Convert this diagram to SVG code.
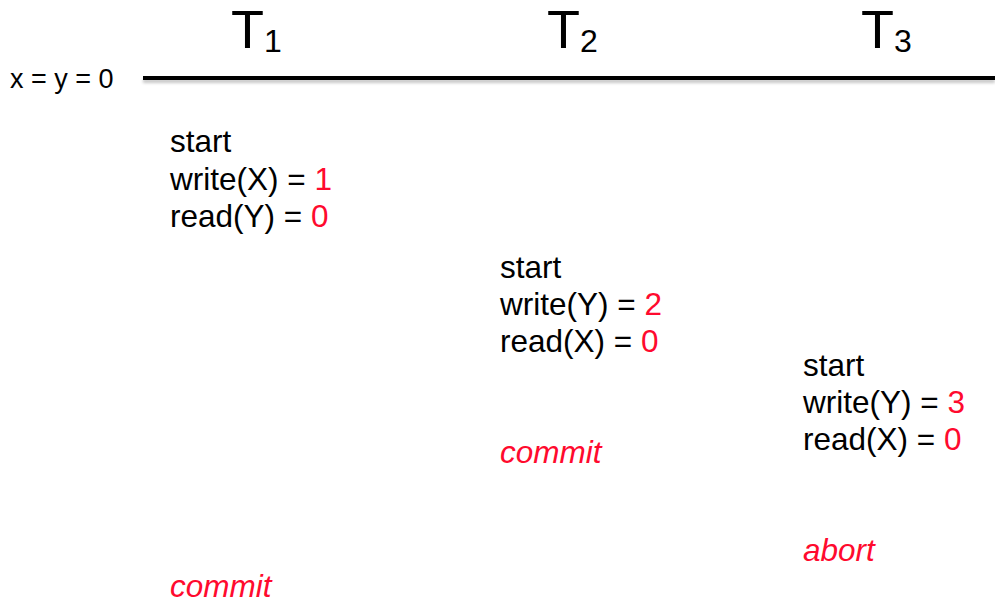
<svg xmlns="http://www.w3.org/2000/svg" width="995" height="604" viewBox="0 0 995 604">
  <defs>
    <filter id="soft" filterUnits="userSpaceOnUse" x="130" y="60" width="880" height="40">
      <feGaussianBlur stdDeviation="1.6"/>
    </filter>
    <style>
      text { font-family: "Liberation Sans", Arial, sans-serif; fill: #000; }
      .hdr { font-size: 54px; }
      .sub { font-size: 32px; }
      .op { font-size: 31.5px; }
      .val { fill: #ff0a2e; }
      .end { font-size: 31.5px; font-style: italic; fill: #ff0a2e; }
      .init { font-size: 27px; }
    </style>
  </defs>
  <rect width="995" height="604" fill="#fff"/>

  <!-- initial state and time axis -->
  <g id="axis">
    <text class="init" x="10" y="88">x = y = 0</text>
    <rect x="143" y="79" width="852" height="4" fill="#000" opacity="0.22" filter="url(#soft)"/>
    <rect x="143" y="76" width="852" height="4" fill="#000"/>
  </g>

  <!-- transaction headers -->
  <g id="headers">
    <text class="hdr" x="231" y="48">T<tspan class="sub" dx="0" dy="4">1</tspan></text>
    <text class="hdr" x="547" y="48">T<tspan class="sub" dx="0" dy="4">2</tspan></text>
    <text class="hdr" x="861" y="48">T<tspan class="sub" dx="0" dy="4">3</tspan></text>
  </g>

  <!-- T1 operations -->
  <g id="t1">
    <text class="op" x="170" y="152">start</text>
    <text class="op" x="170" y="190">write(X) = <tspan class="val">1</tspan></text>
    <text class="op" x="170" y="227">read(Y) = <tspan class="val">0</tspan></text>
    <text class="end" x="170" y="597">commit</text>
  </g>

  <!-- T2 operations -->
  <g id="t2">
    <text class="op" x="500" y="278">start</text>
    <text class="op" x="500" y="315">write(Y) = <tspan class="val">2</tspan></text>
    <text class="op" x="500" y="352">read(X) = <tspan class="val">0</tspan></text>
    <text class="end" x="500" y="463">commit</text>
  </g>

  <!-- T3 operations -->
  <g id="t3">
    <text class="op" x="803" y="376">start</text>
    <text class="op" x="803" y="413">write(Y) = <tspan class="val">3</tspan></text>
    <text class="op" x="803" y="450">read(X) = <tspan class="val">0</tspan></text>
    <text class="end" x="803" y="561">abort</text>
  </g>
</svg>
